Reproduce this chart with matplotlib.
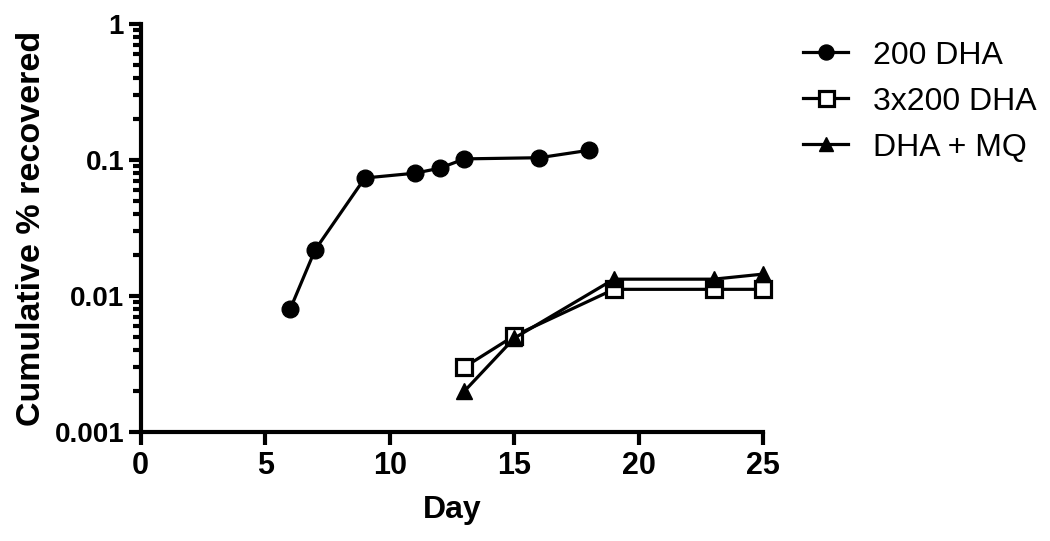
import matplotlib.pyplot as plt
from matplotlib.ticker import LogLocator, FixedLocator, NullFormatter

plt.rcParams['font.family'] = ['Liberation Sans', 'DejaVu Sans']

# 200 DHA
day_a = [6, 7, 9, 11, 12, 13, 16, 18]
val_a = [0.008, 0.0218, 0.0738, 0.080, 0.087, 0.102, 0.104, 0.118]
# 3x200 DHA
day_b = [13, 15, 19, 23, 25]
val_b = [0.003, 0.0051, 0.0112, 0.0112, 0.0112]
# DHA + MQ
day_c = [13, 15, 19, 23, 25]
val_c = [0.002, 0.0049, 0.0133, 0.0133, 0.0145]

x_ticks = [0, 5, 10, 15, 20, 25]
y_ticks = [0.001, 0.01, 0.1, 1]
y_labels = ['0.001', '0.01', '0.1', '1']

fig = plt.figure(figsize=(10.5, 5.41), dpi=100)
ax = fig.add_axes([0.134, 0.2015, 0.593, 0.754])

lw = 2.3
ax.plot(day_a, val_a, '-o', color='black', lw=lw, ms=12, label='200 DHA', clip_on=False)
ax.plot(day_b, val_b, '-s', color='black', lw=lw, ms=12, mfc='white', mew=2.3,
        label='3x200 DHA', clip_on=False)
ax.plot(day_c, val_c, '-^', color='black', lw=lw, ms=11, label='DHA + MQ', clip_on=False)

ax.set_yscale('log')
ax.set_ylim(0.001, 1)
ax.set_xlim(0, 25)
ax.set_xticks(x_ticks)
ax.set_xticklabels([str(t) for t in x_ticks])
ax.yaxis.set_major_locator(FixedLocator(y_ticks))
ax.set_yticklabels(y_labels)
ax.yaxis.set_minor_locator(LogLocator(base=10, subs=range(2, 10)))
ax.yaxis.set_minor_formatter(NullFormatter())

for s in ['top', 'right']:
    ax.spines[s].set_visible(False)
for s in ['left', 'bottom']:
    ax.spines[s].set_linewidth(3)

ax.tick_params(axis='x', which='major', length=9, width=3, direction='out',
               labelsize=22, pad=5)
ax.tick_params(axis='y', which='major', length=9, width=3, direction='out',
               labelsize=20, pad=3)
ax.tick_params(axis='y', which='minor', length=5.5, width=3, direction='out')
for lab in ax.get_xticklabels() + ax.get_yticklabels():
    lab.set_fontweight('bold')

ax.set_xlabel('Day', fontsize=23, fontweight='bold')
ax.set_ylabel('Cumulative % recovered', fontsize=24.5, fontweight='bold')
ax.xaxis.set_label_coords(0.5, -0.155)
ax.yaxis.set_label_coords(-0.15, 0.5)

leg = ax.legend(loc='upper left', bbox_to_anchor=(0.765, 0.925), bbox_transform=fig.transFigure,
                frameon=False, fontsize=23, handlelength=1.4, handletextpad=0.78,
                labelspacing=0.5, borderpad=0, borderaxespad=0, markerscale=0.9)

fig.savefig('out.png', dpi=100)
